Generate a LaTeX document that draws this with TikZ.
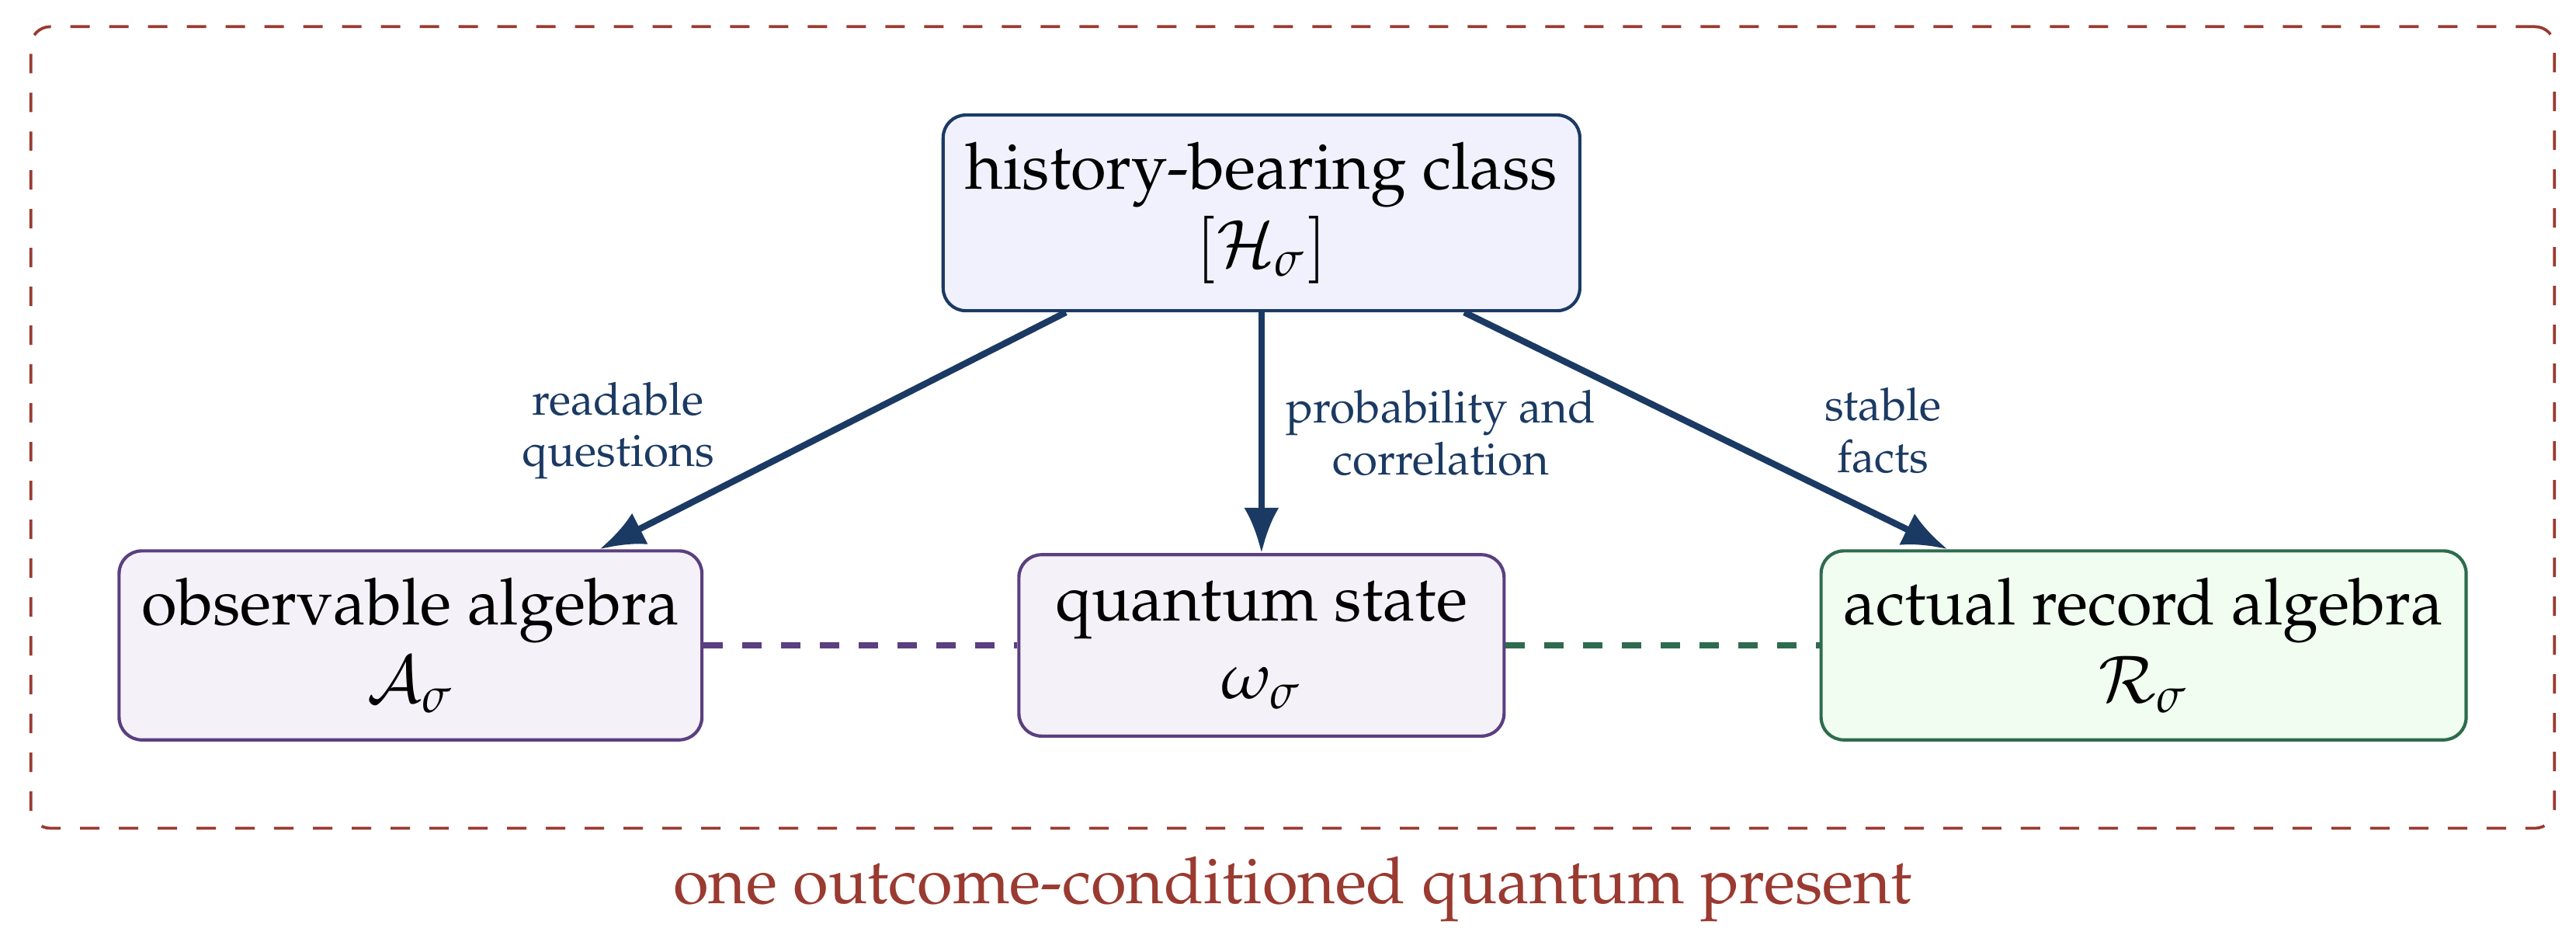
\documentclass[tikz,border=0pt]{standalone}
\usepackage[T1]{fontenc}
\usepackage{mathpazo}
\usepackage{amsmath}
\usetikzlibrary{positioning,fit,arrows.meta}
\definecolor{histblue}{RGB}{27,58,99}
\definecolor{histfill}{RGB}{240,241,252}
\definecolor{obspurple}{RGB}{91,63,128}
\definecolor{obsfill}{RGB}{244,242,248}
\definecolor{recgreen}{RGB}{46,107,78}
\definecolor{recfill}{RGB}{240,253,240}
\definecolor{framered}{RGB}{154,58,48}
\tikzset{
  box/.style={draw, rounded corners=3.5pt, line width=0.5pt, align=center, inner xsep=3.5pt, inner ysep=4.2pt, minimum width=75pt},
  topbox/.style={box, draw=histblue, fill=histfill},
  midbox/.style={box, draw=obspurple, fill=obsfill},
  recbox/.style={box, draw=recgreen, fill=recfill},
  flow/.style={-{Latex[length=7pt,width=5.4pt]}, draw=histblue, line width=1pt},
  link/.style={dashed, line width=1pt},
  edgelbl/.style={font=\scriptsize, text=histblue, align=center},
  frame/.style={draw=framered, dashed, line width=0.45pt, rounded corners=3pt, inner sep=13.4pt}
}
\begin{document}
\begin{tikzpicture}[node distance=48.5pt]
\useasboundingbox (0,0) rectangle (398.2pt,144.4pt);
\node[topbox] (hist) at (195pt,111.5pt) {history-bearing class\\ $[\mathcal{H}_\sigma]$};
\node[midbox, below=37.2pt of hist] (state) {quantum state\\ $\omega_\sigma$};
\node[midbox, left=of state] (obs) {observable algebra\\ $\mathcal{A}_\sigma$};
\node[recbox, right=of state] (rec) {actual record algebra\\ $\mathcal{R}_\sigma$};
% arrows out of the class
\draw[flow] (hist) -- node[edgelbl, left=14.5pt] {readable\\ questions} (obs);
\draw[flow] (hist) -- node[edgelbl, right] {probability and\\ correlation} (state);
\draw[flow] (hist) -- node[edgelbl, right=14.5pt] {stable\\ facts} (rec);
% dashed links along the bottom row
\draw[link, draw=obspurple] (obs) -- (state);
\draw[link, draw=recgreen] (state) -- (rec);
\node[frame, fit=(hist)(obs)(rec)] (present) {};
\node[below=0.6pt of present, text=framered] (presentlbl) {one outcome-conditioned quantum present};
\end{tikzpicture}
\end{document}
